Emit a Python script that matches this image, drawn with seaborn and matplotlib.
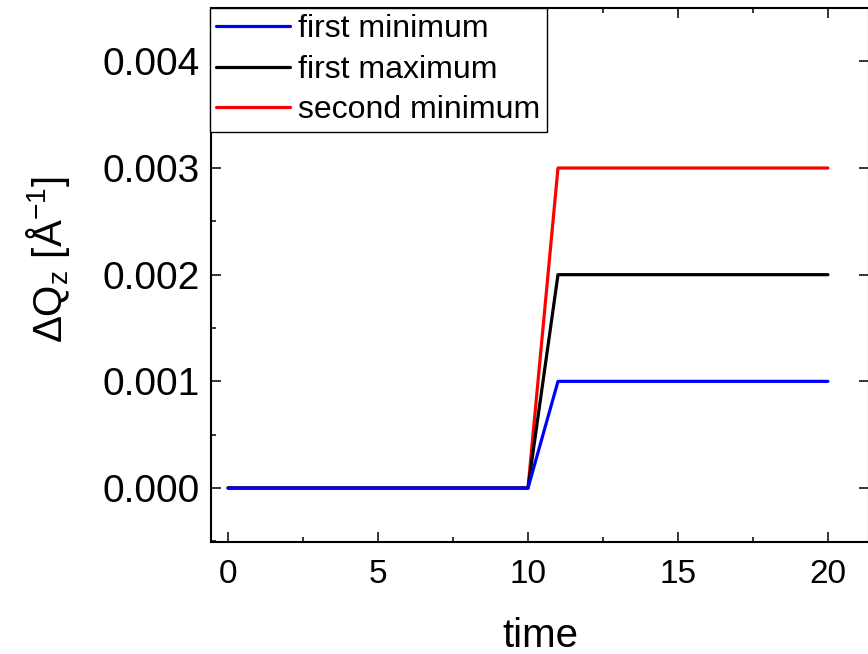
import numpy as np
import pandas as pd
import matplotlib
matplotlib.use("Agg")
import matplotlib.pyplot as plt
import seaborn as sns

# ---- data ----
time = list(range(0, 21))
first_minimum = [0.0] * 11 + [0.001] * 10
first_maximum = [0.0] * 11 + [0.002] * 10
second_minimum = [0.0] * 11 + [0.003] * 10
series_names = ["first minimum", "first maximum", "second minimum"]
series_colors = ["#0000ff", "#000000", "#ff0000"]
xticks = [0, 5, 10, 15, 20]
yticks = [0.000, 0.001, 0.002, 0.003, 0.004]
ytick_labels = ["0.000", "0.001", "0.002", "0.003", "0.004"]

df = pd.concat([
    pd.DataFrame({"time": time, "dq": first_minimum, "series": series_names[0]}),
    pd.DataFrame({"time": time, "dq": first_maximum, "series": series_names[1]}),
    pd.DataFrame({"time": time, "dq": second_minimum, "series": series_names[2]}),
])

sns.set_theme(style="white")
plt.rcParams["font.family"] = ["Liberation Sans", "DejaVu Sans"]
plt.rcParams["mathtext.fontset"] = "custom"
plt.rcParams["mathtext.rm"] = "Liberation Sans"
plt.rcParams["mathtext.it"] = "Liberation Sans:italic"
plt.rcParams["text.color"] = "black"
plt.rcParams["axes.labelcolor"] = "black"
plt.rcParams["xtick.color"] = "black"
plt.rcParams["ytick.color"] = "black"

fig = plt.figure(figsize=(8.68, 6.54), dpi=100)
ax = fig.add_axes([211 / 868, 1 - 542 / 654, (869 - 211) / 868, (542 - 8) / 654])

# blue drawn last so it sits on top, as in the reference
draw_order = [2, 1, 0]
for i in draw_order:
    sub = df[df["series"] == series_names[i]]
    sns.lineplot(data=sub, x="time", y="dq", color=series_colors[i], lw=2.3,
                 ax=ax, label=series_names[i], legend=False)

ax.set_xlim(-0.57, 21.37)
ax.set_ylim(-0.000506, 0.0045)
ax.set_xticks(xticks)
ax.set_xticks(np.arange(0, 21.5, 2.5), minor=True)
ax.set_yticks(yticks)
ax.set_yticklabels(ytick_labels)
ax.set_yticks(np.arange(-0.0005, 0.0045, 0.0005), minor=True)

ax.tick_params(which="both", direction="in", top=True, right=True,
               bottom=True, left=True, color="black", width=1.1)
ax.tick_params(axis="y", which="minor", right=False)
ax.tick_params(which="major", length=7)
ax.tick_params(which="minor", length=3.6)
ax.tick_params(axis="x", which="major", labelsize=24, pad=12)
ax.tick_params(axis="y", which="major", labelsize=28, pad=8)
for s in ax.spines.values():
    s.set_visible(True)
    s.set_color("black")
    s.set_linewidth(1.5)

ax.set_xlabel("time", fontsize=29, labelpad=20)
ax.set_ylabel("ΔQ$_\\mathrm{z}$ [Å$^{-1}$]", fontsize=29, va="center")
ax.yaxis.set_label_coords(-0.247, 0.528)

handles, labels = ax.get_legend_handles_labels()
order = [labels.index(n) for n in series_names]
leg = ax.legend([handles[k] for k in order], [labels[k] for k in order],
                loc="upper left", bbox_to_anchor=(-0.002, 1.0), borderaxespad=0,
                fontsize=23, frameon=True, fancybox=False, edgecolor="black",
                framealpha=1, handlelength=2.3, handletextpad=0.28,
                labelspacing=0.33, borderpad=0.2)
leg.get_frame().set_linewidth(1.0)

fig.savefig("out.png", dpi=100)
